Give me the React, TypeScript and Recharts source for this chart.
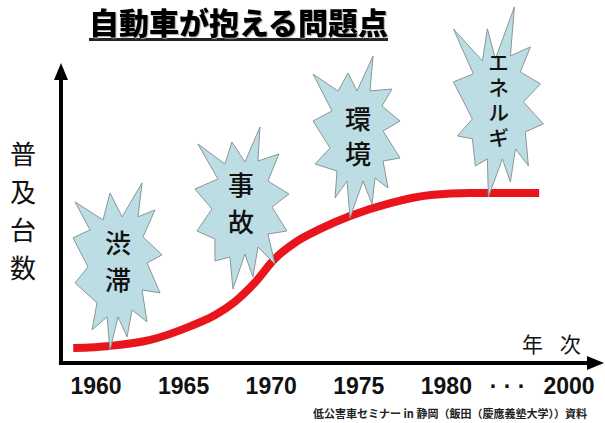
import React from 'react';
import { LineChart, Line, XAxis, YAxis, ReferenceDot, ReferenceLine } from 'recharts';

// x positions are in "tick units": 5 per five years up to 1980, then a break to 2000
const tickPos = [0, 5, 10, 15, 20, 23.5, 27];
const tickLabels = ['1960', '1965', '1970', '1975', '1980', '· · ·', '2000'];

// car ownership curve (schematic level 0-100)
const curvePos = [-1.3, 0.8, 3.1, 5.4, 6.8, 7.9, 9.1, 10.2, 11.4, 12.8, 14.5, 16.8, 19.1, 21.4, 25.3];
const curveLevel = [5, 5.7, 7.7, 12.3, 16, 20.3, 27, 34.7, 40.3, 44.7, 49, 53.3, 56, 56.7, 56.7];

// problems that appeared along the curve
const burstLabels = ['渋滞', '事故', '環境', 'エネルギ'];
const burstPos = [0.8, 10.1, 14.5, 22.4];
const burstLevel = [5.7, 34, 49, 56.7];

const title = '自動車が抱える問題点';
const yLabel = '普及台数';
const xLabel = '年 次';
const source = '低公害車セミナー in 静岡（飯田（慶應義塾大学））資料';

const data = curvePos.map((pos, i) => ({ pos, level: curveLevel[i] }));

const CJK = '"Noto Sans CJK JP", "Noto Sans", sans-serif';
const LATIN = '"Liberation Sans", Arial, sans-serif';

// spiky outlines, relative to the tip that sits on the curve
const outlines: number[][][] = [
  [[-35,-144],[-7,-126],[0,-153],[12,-129],[32,-163],[28,-129],[45,-136],[33,-109],[52,-91],[37,-83],[50,-53],[32,-56],[37,-24],[22,-36],[17,-9],[8,-29],[0,4],[-3,-29],[-18,-16],[-13,-43],[-35,-63],[-22,-79],[-37,-108],[-20,-116]],
  [[-75,-117],[-48,-97],[-41,-119],[-28,-99],[-13,-134],[-15,-100],[6,-107],[-5,-80],[16,-67],[-1,-54],[14,-30],[-5,-27],[2,3],[-15,-14],[-20,16],[-28,-7],[-40,28],[-43,-4],[-58,0],[-58,-22],[-76,-30],[-61,-52],[-78,-72],[-55,-82]],
  [[-37,-142],[-12,-125],[-2,-143],[7,-125],[23,-160],[20,-125],[42,-127],[32,-110],[50,-95],[33,-85],[50,-58],[33,-55],[38,-28],[25,-38],[22,-12],[13,-35],[0,2],[-3,-35],[-15,-18],[-13,-45],[-35,-52],[-20,-68],[-37,-95],[-18,-105]],
  [[-35,-164],[-6,-132],[-1,-164],[7,-134],[26,-186],[22,-137],[42,-146],[32,-121],[52,-109],[35,-91],[55,-69],[37,-61],[40,-27],[27,-44],[22,-11],[14,-34],[0,4],[-1,-34],[-13,-27],[-16,-54],[-31,-57],[-16,-74],[-35,-111],[-15,-119]],
];

// vertical text inside each burst: dx, top of first glyph, letter spacing, font size
const burstText = [
  { dx: 8, top: -116, spacing: 11, size: 26 },
  { dx: -32, top: -89, spacing: 11, size: 26 },
  { dx: 8, top: -110, spacing: 9, size: 26 },
  { dx: 10, top: -141, spacing: 4, size: 21 },
];

const renderBurst = (i: number) => (props: any) => {
  const { cx, cy } = props;
  const pts = outlines[i].map(([dx, dy]) => `${cx + dx},${cy + dy}`).join(' ');
  const t = burstText[i];
  return (
    <g>
      <polygon points={pts} fill="#bcdde3" stroke="#8a9699" strokeWidth={1} strokeLinejoin="miter" />
      <text
        x={cx + t.dx}
        y={cy + t.top}
        fontFamily={CJK}
        fontSize={t.size}
        fontWeight={500}
        fill="#111"
        style={{ writingMode: 'vertical-rl', letterSpacing: t.spacing }}
      >
        {burstLabels[i]}
      </text>
    </g>
  );
};

const upArrow = (props: any) => {
  const { cx, cy } = props;
  return <polygon points={`${cx},${cy} ${cx - 7},${cy + 17} ${cx + 7},${cy + 17}`} fill="#000" />;
};

const rightArrow = (props: any) => {
  const { cx, cy } = props;
  return <polygon points={`${cx},${cy} ${cx - 17},${cy - 7} ${cx - 17},${cy + 7}`} fill="#000" />;
};

const renderTick = (props: any) => {
  const { x, y, payload } = props;
  const idx = tickPos.indexOf(payload.value);
  return (
    <text x={x} y={y} dy="0.71em" textAnchor="middle" fontFamily={LATIN} fontWeight="bold" fontSize={23} fill="#111">
      {tickLabels[idx]}
    </text>
  );
};

export default function App() {
  return (
    <div style={{ position: 'fixed', left: 0, top: 0, width: 605, height: 423, background: '#fff' }}>
      <LineChart width={605} height={423} data={data} margin={{ top: 63, right: 1, bottom: 0, left: 61 }}>
        <XAxis
          type="number"
          dataKey="pos"
          domain={[-2, 29]}
          ticks={tickPos}
          tick={renderTick}
          axisLine={false}
          tickLine={false}
          tickSize={0}
          tickMargin={15}
          height={60}
          allowDataOverflow
          interval={0}
        />
        <YAxis type="number" domain={[0, 100]} hide />
        <ReferenceLine segment={[{ x: -2, y: 0 }, { x: -2, y: 96 }]} stroke="#000" strokeWidth={4} ifOverflow="visible" />
        <ReferenceLine segment={[{ x: -2.12, y: 0 }, { x: 28.5, y: 0 }]} stroke="#000" strokeWidth={4} ifOverflow="visible" />
        <ReferenceDot x={-2} y={100} r={1} shape={upArrow} ifOverflow="visible" />
        <ReferenceDot x={29} y={0} r={1} shape={rightArrow} ifOverflow="visible" />
        <Line
          type="monotone"
          dataKey="level"
          stroke="#e8161c"
          strokeWidth={8}
          strokeLinecap="butt"
          dot={false}
          activeDot={false}
          isAnimationActive={false}
        />
        {burstLabels.map((label, i) => (
          <ReferenceDot key={label} x={burstPos[i]} y={burstLevel[i]} r={1} shape={renderBurst(i)} ifOverflow="visible" />
        ))}
      </LineChart>

      <div
        style={{
          position: 'absolute', left: 89, top: 5, fontFamily: CJK, fontWeight: 900, fontSize: 30,
          lineHeight: '32px', color: '#000', borderBottom: '3px solid #222', paddingBottom: 1,
          textShadow: '1px 1px 1px #aaa', whiteSpace: 'nowrap',
        }}
      >
        {title}
      </div>

      <div style={{ position: 'absolute', left: 9, top: 134, width: 28, fontFamily: CJK, fontSize: 26, lineHeight: '38px', color: '#111', textAlign: 'center' }}>
        {yLabel.split('').map((ch, i) => (
          <div key={i}>{ch}</div>
        ))}
      </div>

      <div style={{ position: 'absolute', left: 522, top: 330, fontFamily: CJK, fontSize: 21, lineHeight: '26px', letterSpacing: 6, color: '#111', whiteSpace: 'pre' }}>
        {xLabel}
      </div>

      <div style={{ position: 'absolute', left: 313, top: 405, fontFamily: CJK, fontSize: 11, fontWeight: 700, lineHeight: '16px', color: '#222', whiteSpace: 'nowrap' }}>
        {source}
      </div>
    </div>
  );
}
